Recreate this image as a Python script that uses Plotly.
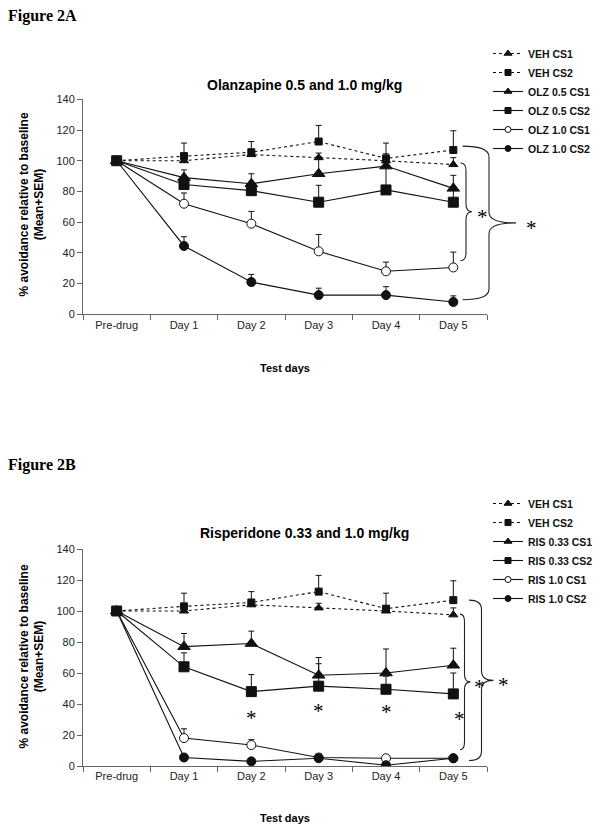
import plotly.graph_objects as go

W, H = 601, 832

days = ["Pre-drug", "Day 1", "Day 2", "Day 3", "Day 4", "Day 5"]

# Shared vehicle groups
veh_cs1 = [100, 100, 104, 102, 100, 97.5]
veh_cs1_err = [0, 3, 3, 3, 3, 4.5]
veh_cs2 = [100, 103, 105.5, 112.5, 101.5, 107]
veh_cs2_err = [0, 8.5, 7, 10.5, 10, 12.5]

# Figure 2A - Olanzapine
olz05_cs1 = [100, 89, 85, 91.5, 96.5, 82]
olz05_cs1_err = [0, 5, 6.5, 11, 8, 8.5]
olz05_cs2 = [100, 84.5, 80.5, 73, 81, 73]
olz05_cs2_err = [0, 4, 4, 11, 15, 8]
olz10_cs1 = [100, 72, 59, 41, 28, 30.5]
olz10_cs1_err = [0, 7, 8, 11, 6, 10]
olz10_cs2 = [100, 44.5, 21, 12.5, 12.5, 8]
olz10_cs2_err = [0, 6, 5, 4.5, 5.5, 4]

# Figure 2B - Risperidone
ris033_cs1 = [100, 77, 79, 58.5, 60, 65]
ris033_cs1_err = [0, 8.5, 8, 11.5, 15.5, 11]
ris033_cs2 = [100, 64, 48, 51.5, 49.5, 46.5]
ris033_cs2_err = [0, 9, 11, 14.5, 8.5, 13.5]
ris10_cs1 = [100, 18, 13.5, 5.5, 5, 5]
ris10_cs1_err = [0, 6, 3.5, 2.5, 1, 1]
ris10_cs2 = [100, 5.5, 3, 5, 0.5, 5]
ris10_cs2_err = [0, 1.5, 1, 1.5, 1, 1]

# post-hoc day asterisks for RIS 0.33 CS2 (y position in data units)
ris_star_days = ["Day 2", "Day 3", "Day 4"]
ris_star_y = [34, 38.5, 38]

SANS = "Liberation Sans, Arial, sans-serif"
SERIF = "Liberation Serif, Times New Roman, serif"
BLACK = "#111111"
AXC = "#666666"


def px_x(p):
    return p / W


def px_y(p):
    return 1 - p / H


fig = go.Figure()


def add_series(y, err, name, dash, symbol, size, lsize, fill, xa, ya, legend):
    fig.add_trace(go.Scatter(
        x=days, y=y, name=name, mode="lines+markers",
        xaxis=xa, yaxis=ya, showlegend=False,
        line=dict(color=BLACK, width=1.1, dash=dash),
        marker=dict(symbol=symbol, size=size, color=fill,
                    line=dict(color=BLACK, width=1)),
        error_y=dict(type="data", symmetric=False, array=err,
                     arrayminus=[0] * len(err), color=BLACK,
                     thickness=1, width=3),
    ))
    # legend-only key with the small symbol used in the original legend
    fig.add_trace(go.Scatter(
        x=[None], y=[None], name=name, mode="lines+markers",
        xaxis=xa, yaxis=ya, legend=legend, showlegend=True,
        line=dict(color=BLACK, width=1.1, dash=dash),
        marker=dict(symbol=symbol, size=lsize, color=fill,
                    line=dict(color=BLACK, width=1)),
    ))


groups_a = [
    (veh_cs1, veh_cs1_err, "VEH CS1", "dot", "triangle-up", 8, 7, BLACK),
    (veh_cs2, veh_cs2_err, "VEH CS2", "dot", "square", 7, 6, BLACK),
    (olz05_cs1, olz05_cs1_err, "OLZ 0.5 CS1", "solid", "triangle-up", 11, 7, BLACK),
    (olz05_cs2, olz05_cs2_err, "OLZ 0.5 CS2", "solid", "square", 10, 6, BLACK),
    (olz10_cs1, olz10_cs1_err, "OLZ 1.0 CS1", "solid", "circle", 9, 6, "white"),
    (olz10_cs2, olz10_cs2_err, "OLZ 1.0 CS2", "solid", "circle", 9, 6, BLACK),
]
groups_b = [
    (veh_cs1, veh_cs1_err, "VEH CS1", "dot", "triangle-up", 8, 7, BLACK),
    (veh_cs2, veh_cs2_err, "VEH CS2", "dot", "square", 7, 6, BLACK),
    (ris033_cs1, ris033_cs1_err, "RIS 0.33 CS1", "solid", "triangle-up", 11, 7, BLACK),
    (ris033_cs2, ris033_cs2_err, "RIS 0.33 CS2", "solid", "square", 10, 6, BLACK),
    (ris10_cs1, ris10_cs1_err, "RIS 1.0 CS1", "solid", "circle", 9, 6, "white"),
    (ris10_cs2, ris10_cs2_err, "RIS 1.0 CS2", "solid", "circle", 9, 6, BLACK),
]
for g in groups_a:
    add_series(*g, "x", "y", "legend")
for g in groups_b:
    add_series(*g, "x2", "y2", "legend2")

# plot area pixel boxes
X0, X1 = 83, 487
A_TOP, A_BOT = 99.3, 314.3
B_TOP, B_BOT = 549, 766

xaxis_common = dict(
    type="category", categoryorder="array", categoryarray=days,
    range=[-0.5, 5.5], tickson="boundaries", ticks="outside", ticklen=5,
    tickcolor=AXC, showline=True, linecolor=AXC, linewidth=1,
    showgrid=False, zeroline=False, automargin=False,
    tickfont=dict(family=SANS, size=11, color="#222"),
)
yaxis_common = dict(
    range=[0, 140], dtick=20, ticks="outside", ticklen=5, tickcolor=AXC,
    showline=True, linecolor=AXC, linewidth=1, showgrid=False,
    zeroline=False, automargin=False,
    tickfont=dict(family=SANS, size=11, color="#222"),
)

legend_common = dict(
    xanchor="left", yanchor="top", bgcolor="rgba(0,0,0,0)",
    font=dict(family=SANS, size=10.5, color="#111", weight="bold"),
    itemwidth=30, tracegroupgap=0,
)

fig.update_layout(
    width=W, height=H, margin=dict(l=0, r=0, t=0, b=0),
    paper_bgcolor="white", plot_bgcolor="white",
    xaxis=dict(domain=[px_x(X0), px_x(X1)], anchor="y", **xaxis_common),
    yaxis=dict(domain=[px_y(A_BOT), px_y(A_TOP)], anchor="x", **yaxis_common),
    xaxis2=dict(domain=[px_x(X0), px_x(X1)], anchor="y2", **xaxis_common),
    yaxis2=dict(domain=[px_y(B_BOT), px_y(B_TOP)], anchor="x2", **yaxis_common),
    legend=dict(x=px_x(488), y=px_y(39), **legend_common),
    legend2=dict(x=px_x(488), y=px_y(489), **legend_common),
    showlegend=True,
)

ann = []
# figure labels
ann.append(dict(text="<b>Figure 2A</b>", x=px_x(6), y=px_y(16), xref="paper", yref="paper",
                xanchor="left", yanchor="middle", showarrow=False,
                font=dict(family=SERIF, size=16, color="black")))
ann.append(dict(text="<b>Figure 2B</b>", x=px_x(6), y=px_y(465), xref="paper", yref="paper",
                xanchor="left", yanchor="middle", showarrow=False,
                font=dict(family=SERIF, size=16, color="black")))
# chart titles
for txt, yy in [("Olanzapine 0.5 and 1.0 mg/kg", 85), ("Risperidone 0.33 and 1.0 mg/kg", 533)]:
    ann.append(dict(text="<b>%s</b>" % txt, x=px_x(304), y=px_y(yy), xref="paper", yref="paper",
                    xanchor="center", yanchor="middle", showarrow=False,
                    font=dict(family=SANS, size=14, color="black")))
# x titles
for yy in [368, 818]:
    ann.append(dict(text="<b>Test days</b>", x=px_x(285), y=px_y(yy), xref="paper", yref="paper",
                    xanchor="center", yanchor="middle", showarrow=False,
                    font=dict(family=SANS, size=11, color="black")))
# y titles
for yc in [205, 657]:
    ann.append(dict(text="<b>% avoidance relative to baseline<br>(Mean+SEM)</b>",
                    x=px_x(31.5), y=px_y(yc), xref="paper", yref="paper",
                    xanchor="center", yanchor="middle", showarrow=False, textangle=-90,
                    font=dict(family=SANS, size=12, color="black")))

STAR_FONT = dict(family=SERIF, size=21, color="black")


def star(xp, yv, yref):
    ann.append(dict(text="*", x=xp, y=yv, xref="paper", yref=yref, xanchor="center",
                    yanchor="middle", showarrow=False, yshift=-5, font=STAR_FONT))


# Risperidone day stars (x in category units on x2)
for d, yv in zip(ris_star_days, ris_star_y):
    ann.append(dict(text="*", x=d, y=yv, xref="x2", yref="y2", xanchor="center",
                    yanchor="middle", showarrow=False, yshift=-5, font=STAR_FONT))
star(px_x(459.5), 33.5, "y2")

shapes = []


def brace(tip, spine, point, top, bot, yref, r=5):
    t, s, p = px_x(tip), px_x(spine), px_x(point)
    mid = (top + bot) / 2
    path = (f"M{t},{top} Q{s},{top} {s},{top - r} L{s},{mid + r} "
            f"Q{s},{mid} {p},{mid} Q{s},{mid} {s},{mid - r} "
            f"L{s},{bot + r} Q{s},{bot} {t},{bot}")
    shapes.append(dict(type="path", path=path, xref="paper", yref=yref,
                       line=dict(color="#222", width=1.1)))
    return mid


# Figure 2A braces
m = brace(460.5, 466, 472, veh_cs1[5] + 1, olz10_cs1[5] + 4.5, "y")
star(px_x(482), m, "y")
m = brace(462.5, 489, 516, veh_cs2[5] + 2.5, olz10_cs2[5] + 1.5, "y", r=7)
star(px_x(531), m, "y")
# Figure 2B braces
m = brace(460, 464.5, 470.5, veh_cs1[5] + 0.5, ris10_cs1[5] + 5.5, "y2")
star(px_x(479.5), m, "y2")
m = brace(469, 481.5, 493.5, veh_cs2[5], ris10_cs2[5] - 1.5, "y2", r=6)
star(px_x(503.5), m, "y2")

fig.update_layout(annotations=ann, shapes=shapes)

fig.write_html("out.html", config={"displayModeBar": False},
               post_script="document.body.style.margin='0';document.body.style.overflow='hidden';")
